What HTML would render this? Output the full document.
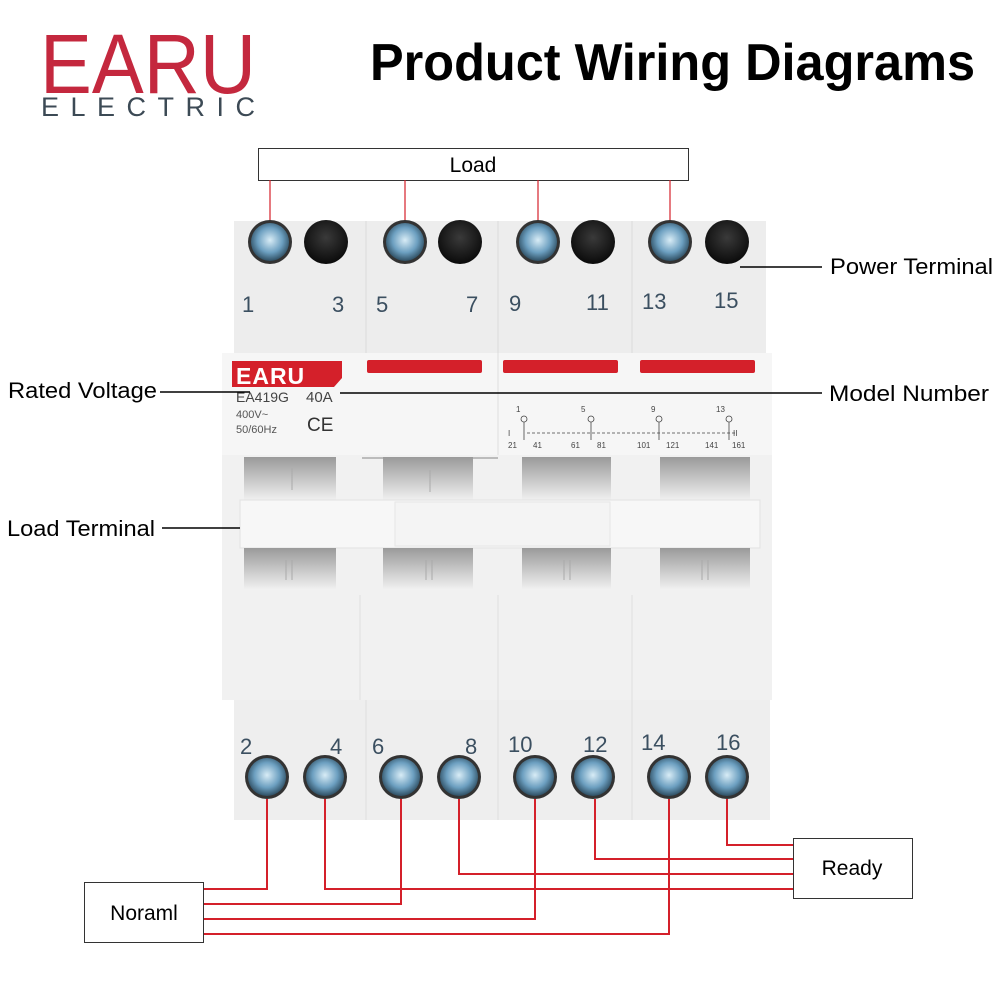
<!DOCTYPE html>
<html><head><meta charset="utf-8"><style>
html,body{margin:0;padding:0;background:#fff;width:1000px;height:1000px;overflow:hidden}
svg{display:block}
</style></head><body>
<svg width="1000" height="1000" viewBox="0 0 1000 1000" xmlns="http://www.w3.org/2000/svg" font-family="Liberation Sans, sans-serif">
<defs>
<radialGradient id="scr" cx="50%" cy="45%" r="55%"><stop offset="0" stop-color="#d8ecf6"/><stop offset="0.6" stop-color="#6c9fc0"/><stop offset="1" stop-color="#2f4f63"/></radialGradient>
<radialGradient id="hole" cx="50%" cy="40%" r="60%"><stop offset="0" stop-color="#3a3a3a"/><stop offset="1" stop-color="#0a0a0a"/></radialGradient>
<linearGradient id="win" x1="0" y1="0" x2="0" y2="1"><stop offset="0" stop-color="#9a9a9a"/><stop offset="1" stop-color="#f2f2f2"/></linearGradient>
</defs>
<!-- Logo -->
<text x="40" y="93" font-size="84" fill="#c4283e" textLength="216" lengthAdjust="spacingAndGlyphs">EARU</text>
<text x="41" y="116" font-size="27" fill="#3c4a55" textLength="214" lengthAdjust="spacing">ELECTRIC</text>
<text x="370" y="80" font-size="52" font-weight="bold" fill="#000" textLength="605" lengthAdjust="spacingAndGlyphs">Product Wiring Diagrams</text>

<!-- Load box -->
<rect x="258.5" y="148.5" width="430" height="32" fill="#fff" stroke="#333"/>
<text x="473" y="172" font-size="21" text-anchor="middle">Load</text>
<g stroke="#d4202a" stroke-width="1.2">
<line x1="270" y1="180" x2="270" y2="238"/><line x1="405" y1="180" x2="405" y2="238"/>
<line x1="538" y1="180" x2="538" y2="238"/><line x1="670" y1="180" x2="670" y2="238"/>
</g>

<!-- Device body -->
<rect x="234" y="221" width="532" height="132" fill="#ededed"/>
<g stroke="#dcdcdc"><line x1="366" y1="221" x2="366" y2="353"/><line x1="498" y1="221" x2="498" y2="353"/><line x1="632" y1="221" x2="632" y2="353"/></g>
<rect x="222" y="353" width="550" height="102" fill="#f6f6f6"/>
<line x1="498" y1="353" x2="498" y2="455" stroke="#ddd"/>
<rect x="222" y="455" width="550" height="245" fill="#f1f1f1"/>
<rect x="234" y="700" width="536" height="120" fill="#eeeeee"/>
<g stroke="#dedede"><line x1="366" y1="700" x2="366" y2="820"/><line x1="498" y1="700" x2="498" y2="820"/><line x1="632" y1="700" x2="632" y2="820"/>
<line x1="360" y1="595" x2="360" y2="700"/><line x1="498" y1="595" x2="498" y2="700"/><line x1="632" y1="595" x2="632" y2="700"/></g>

<!-- top terminals -->
<g>
<circle cx="270" cy="242" r="22" fill="#333"/><circle cx="270" cy="242" r="19" fill="url(#scr)"/>
<circle cx="405" cy="242" r="22" fill="#333"/><circle cx="405" cy="242" r="19" fill="url(#scr)"/>
<circle cx="538" cy="242" r="22" fill="#333"/><circle cx="538" cy="242" r="19" fill="url(#scr)"/>
<circle cx="670" cy="242" r="22" fill="#333"/><circle cx="670" cy="242" r="19" fill="url(#scr)"/>
<circle cx="326" cy="242" r="22" fill="url(#hole)"/><circle cx="460" cy="242" r="22" fill="url(#hole)"/>
<circle cx="593" cy="242" r="22" fill="url(#hole)"/><circle cx="727" cy="242" r="22" fill="url(#hole)"/>
</g>
<g font-size="22" fill="#3b4f60">
<text x="242" y="312">1</text><text x="332" y="312">3</text><text x="376" y="312">5</text><text x="466" y="312">7</text>
<text x="509" y="311">9</text><text x="586" y="310">11</text><text x="642" y="309">13</text><text x="714" y="308">15</text>
</g>

<!-- label band -->
<path d="M232 361 H342 V378 L334 387 H232 Z" fill="#d4202a"/>
<text x="236" y="384" font-size="23" font-weight="bold" fill="#fff" letter-spacing="1">EARU</text>
<rect x="367" y="360" width="115" height="13" rx="2" fill="#d4202a"/>
<rect x="503" y="360" width="115" height="13" rx="2" fill="#d4202a"/>
<rect x="640" y="360" width="115" height="13" rx="2" fill="#d4202a"/>
<text x="236" y="402" font-size="14" fill="#444">EA419G</text><text x="306" y="402" font-size="15" fill="#444">40A</text>
<text x="236" y="418" font-size="11" fill="#555">400V~</text><text x="236" y="433" font-size="11" fill="#555">50/60Hz</text>
<text x="307" y="431" font-size="19" fill="#333">CE</text>
<g font-size="8" fill="#444" stroke="#444" stroke-width="0.8">
<line x1="527" y1="433" x2="735" y2="433" stroke-dasharray="3,2" fill="none"/>
<g fill="none"><circle cx="524" cy="419" r="3"/><circle cx="591" cy="419" r="3"/><circle cx="659" cy="419" r="3"/><circle cx="729" cy="419" r="3"/>
<line x1="524" y1="422" x2="524" y2="440"/><line x1="591" y1="422" x2="591" y2="440"/><line x1="659" y1="422" x2="659" y2="440"/><line x1="729" y1="422" x2="729" y2="440"/></g>
</g>
<g font-size="8" fill="#444">
<text x="516" y="412">1</text><text x="581" y="412">5</text><text x="651" y="412">9</text><text x="716" y="412">13</text>
<text x="508" y="436">I</text><text x="733" y="436">II</text>
<text x="508" y="448">21</text><text x="533" y="448">41</text><text x="571" y="448">61</text><text x="597" y="448">81</text>
<text x="637" y="448">101</text><text x="666" y="448">121</text><text x="705" y="448">141</text><text x="732" y="448">161</text>
</g>
<line x1="362" y1="458" x2="498" y2="458" stroke="#888"/>

<!-- windows -->
<g fill="url(#win)">
<rect x="244" y="457" width="92" height="44"/><rect x="383" y="457" width="90" height="44"/>
<rect x="522" y="457" width="89" height="44"/><rect x="660" y="457" width="90" height="44"/>
</g>
<rect x="240" y="500" width="520" height="48" fill="#f7f7f7" stroke="#e2e2e2"/>
<rect x="395" y="502" width="215" height="44" fill="#f4f4f4" stroke="#e6e6e6"/>
<g fill="url(#win)">
<rect x="244" y="548" width="92" height="42"/><rect x="383" y="548" width="90" height="42"/>
<rect x="522" y="548" width="89" height="42"/><rect x="660" y="548" width="90" height="42"/>
</g>
<g stroke="#aaa"><line x1="292" y1="468" x2="292" y2="490"/><line x1="430" y1="470" x2="430" y2="492"/>
<line x1="286" y1="560" x2="286" y2="580"/><line x1="292" y1="560" x2="292" y2="580"/>
<line x1="426" y1="560" x2="426" y2="580"/><line x1="432" y1="560" x2="432" y2="580"/>
<line x1="564" y1="560" x2="564" y2="580"/><line x1="570" y1="560" x2="570" y2="580"/>
<line x1="702" y1="560" x2="702" y2="580"/><line x1="708" y1="560" x2="708" y2="580"/></g>

<!-- bottom terminals -->
<g font-size="22" fill="#3b4f60">
<text x="240" y="754">2</text><text x="330" y="754">4</text><text x="372" y="754">6</text><text x="465" y="754">8</text>
<text x="508" y="752">10</text><text x="583" y="752">12</text><text x="641" y="750">14</text><text x="716" y="750">16</text>
</g>
<g>
<circle cx="267" cy="777" r="22" fill="#333"/><circle cx="267" cy="777" r="19" fill="url(#scr)"/>
<circle cx="325" cy="777" r="22" fill="#333"/><circle cx="325" cy="777" r="19" fill="url(#scr)"/>
<circle cx="401" cy="777" r="22" fill="#333"/><circle cx="401" cy="777" r="19" fill="url(#scr)"/>
<circle cx="459" cy="777" r="22" fill="#333"/><circle cx="459" cy="777" r="19" fill="url(#scr)"/>
<circle cx="535" cy="777" r="22" fill="#333"/><circle cx="535" cy="777" r="19" fill="url(#scr)"/>
<circle cx="593" cy="777" r="22" fill="#333"/><circle cx="593" cy="777" r="19" fill="url(#scr)"/>
<circle cx="669" cy="777" r="22" fill="#333"/><circle cx="669" cy="777" r="19" fill="url(#scr)"/>
<circle cx="727" cy="777" r="22" fill="#333"/><circle cx="727" cy="777" r="19" fill="url(#scr)"/>
</g>

<!-- wires -->
<g stroke="#d4202a" stroke-width="2" fill="none">
<polyline points="267,799 267,889 203,889"/>
<polyline points="401,799 401,904 203,904"/>
<polyline points="535,799 535,919 203,919"/>
<polyline points="669,799 669,934 203,934"/>
<polyline points="727,799 727,845 793,845"/>
<polyline points="595,799 595,859 793,859"/>
<polyline points="459,799 459,874 793,874"/>
<polyline points="325,799 325,889 793,889"/>
</g>
<rect x="84.5" y="882.5" width="119" height="60" fill="#fff" stroke="#333"/>
<text x="144" y="920" font-size="21" text-anchor="middle">Noraml</text>
<rect x="793.5" y="838.5" width="119" height="60" fill="#fff" stroke="#333"/>
<text x="852" y="875" font-size="21" text-anchor="middle">Ready</text>

<!-- callouts -->
<g stroke="#000" stroke-width="1.5">
<line x1="740" y1="267" x2="822" y2="267"/>
<line x1="160" y1="392" x2="250" y2="392"/>
<line x1="340" y1="393" x2="822" y2="393"/>
<line x1="162" y1="528" x2="240" y2="528"/>
</g>
<g font-size="22" fill="#000">
<text x="830" y="274" textLength="163" lengthAdjust="spacingAndGlyphs">Power Terminal</text>
<text x="8" y="398" textLength="149" lengthAdjust="spacingAndGlyphs">Rated Voltage</text>
<text x="829" y="401" textLength="160" lengthAdjust="spacingAndGlyphs">Model Number</text>
<text x="7" y="536" textLength="148" lengthAdjust="spacingAndGlyphs">Load Terminal</text>
</g>
</svg>
</body></html>
